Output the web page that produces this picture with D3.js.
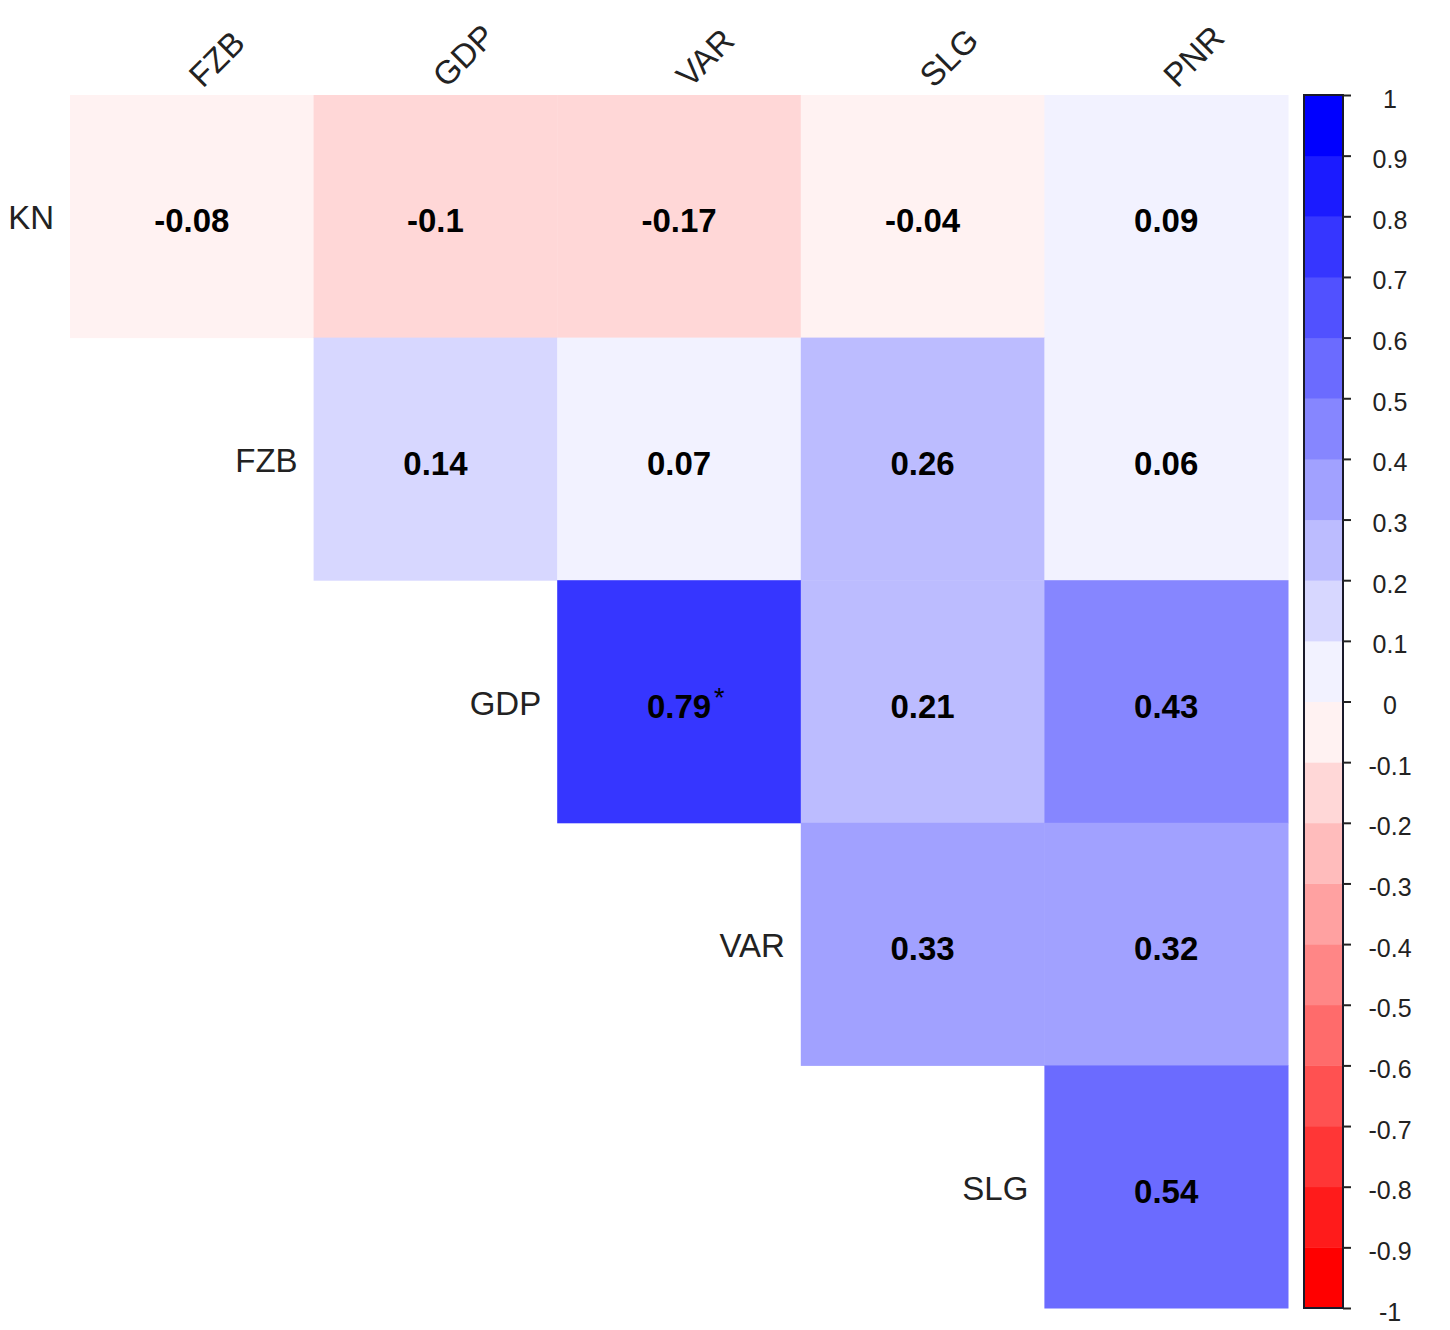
<!DOCTYPE html>
<html>
<head>
<meta charset="utf-8">
<script src="https://cdn.jsdelivr.net/npm/d3@7"></script>
<style>
  body { margin: 0; background: #fff; }
  svg { display: block; font-family: "Liberation Sans", Arial, sans-serif; }
</style>
</head>
<body>
<div id="chart"></div>
<script>
// row and column variables of the upper triangle
const rowVars = ["KN", "FZB", "GDP", "VAR", "SLG"];
const colVars = ["FZB", "GDP", "VAR", "SLG", "PNR"];

// correlations, one array per row (starting at the diagonal)
// -0.1 is printed rounded, its colour sits in the -0.2..-0.1 bin
const rowKN  = [-0.08, -0.104, -0.17, -0.04, 0.09];
const rowFZB = [0.14, 0.07, 0.26, 0.06];
const rowGDP = [0.79, 0.21, 0.43];
const rowVAR = [0.33, 0.32];
const rowSLG = [0.54];
const corrRows = [rowKN, rowFZB, rowGDP, rowVAR, rowSLG];

// significance marks, same shape
const sigRows = [["", "", "", "", ""], ["", "", "", ""], ["*", "", ""], ["", ""], [""]];

// colour bar ticks
const legendTicks = [1, 0.9, 0.8, 0.7, 0.6, 0.5, 0.4, 0.3, 0.2, 0.1, 0,
  -0.1, -0.2, -0.3, -0.4, -0.5, -0.6, -0.7, -0.8, -0.9, -1];

const width = 1450, height = 1330;
const svg = d3.select("#chart").append("svg")
  .attr("width", width)
  .attr("height", height);

// 20 colours, red -> white -> blue
const ramp = d3.piecewise(d3.interpolateRgb, ["#ff0000", "#ffffff", "#0000ff"]);
const colors = d3.range(20).map(i => ramp(i / 19));
const color = d3.scaleQuantize().domain([-1, 1]).range(colors);

const x = d3.scaleBand().domain(colVars).range([70, 1288]);
const y = d3.scaleBand().domain(rowVars).range([95, 1308]);

const locale = d3.formatLocale({ decimal: ".", thousands: ",", grouping: [3], currency: ["", ""], minus: "-" });
const fmt = locale.format(".2~f");
const fmtTick = locale.format(".1~f");

// flatten into cells
const cells = [];
corrRows.forEach((vals, i) => {
  vals.forEach((v, k) => {
    cells.push({ row: rowVars[i], col: colVars[i + k], value: v, sig: sigRows[i][k] });
  });
});

svg.append("g").selectAll("rect")
  .data(cells)
  .enter()
  .append("rect")
  .attr("x", d => x(d.col))
  .attr("y", d => y(d.row))
  .attr("width", x.bandwidth() + 0.5)
  .attr("height", y.bandwidth() + 0.5)
  .attr("fill", d => color(d.value));

const vals = svg.append("g").selectAll("text")
  .data(cells)
  .enter()
  .append("text")
  .attr("x", d => x(d.col) + x.bandwidth() / 2)
  .attr("y", d => y(d.row) + y.bandwidth() / 2 + 16)
  .attr("text-anchor", "middle")
  .style("font-size", "33px")
  .style("font-weight", "bold")
  .style("fill", "#000")
  .text(d => fmt(d.value));

// significance stars after the value
vals.each(function(d) {
  if (!d.sig) return;
  const w = this.getComputedTextLength();
  svg.append("text")
    .attr("x", x(d.col) + x.bandwidth() / 2 + w / 2 + 3)
    .attr("y", y(d.row) + y.bandwidth() / 2 + 5)
    .style("font-size", "27px")
    .style("fill", "#000")
    .text(d.sig);
});

// row labels, left of the first cell of each row
svg.append("g").selectAll("text")
  .data(rowVars)
  .enter()
  .append("text")
  .attr("x", (d, i) => x(colVars[i]) - 16)
  .attr("y", d => y(d) + y.bandwidth() / 2 + 13)
  .attr("text-anchor", "end")
  .style("font-size", "33px")
  .style("fill", "#222")
  .text(d => d);

// column labels, rotated
svg.append("g").selectAll("text")
  .data(colVars)
  .enter()
  .append("text")
  .attr("transform", d => `translate(${x(d) + x.bandwidth() / 2 + 11},89) rotate(-45)`)
  .style("font-size", "33px")
  .style("fill", "#222")
  .text(d => d);

// colour bar
const barX = 1304, barW = 39;
const ly = d3.scaleLinear().domain([-1, 1]).range([1308, 95]);
const bins = d3.range(20).map(i => [-1 + i * 0.1, -1 + (i + 1) * 0.1]);

const legend = svg.append("g");
legend.selectAll("rect")
  .data(bins)
  .enter()
  .append("rect")
  .attr("x", barX)
  .attr("y", d => ly(d[1]))
  .attr("width", barW)
  .attr("height", d => ly(d[0]) - ly(d[1]) + 0.5)
  .attr("fill", d => color((d[0] + d[1]) / 2));

legend.append("rect")
  .attr("x", barX)
  .attr("y", ly(1))
  .attr("width", barW)
  .attr("height", ly(-1) - ly(1))
  .attr("fill", "none")
  .attr("stroke", "#1a1a2a")
  .attr("stroke-width", 2);

const axis = d3.axisRight(ly)
  .tickValues(legendTicks)
  .tickSize(8)
  .tickFormat(d => fmtTick(d));

const ax = legend.append("g")
  .attr("transform", `translate(${barX + barW},0)`)
  .call(axis);
ax.select(".domain").remove();
ax.selectAll(".tick line").attr("stroke", "#222").attr("stroke-width", 2);
ax.selectAll(".tick text")
  .attr("x", 47)
  .attr("dy", "0.48em")
  .attr("text-anchor", "middle")
  .style("font-size", "25px")
  .style("font-family", "'Liberation Sans', Arial, sans-serif")
  .style("fill", "#222");
</script>
</body>
</html>
